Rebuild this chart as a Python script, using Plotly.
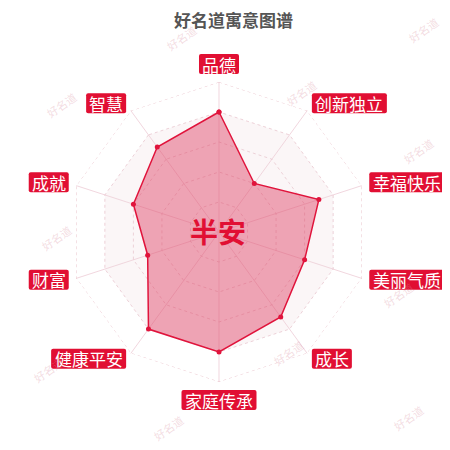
import math
import plotly.graph_objects as go

categories = ["品德", "创新独立", "幸福快乐", "美丽气质", "成长", "家庭传承", "健康平安", "财富", "成就", "智慧"]
values = [80, 40, 70, 60, 70, 80, 80, 50, 60, 70]
name_text = "半安"
title_text = "好名道寓意图谱"
watermark_text = "好名道"
watermark_pos = [(173, 30), (415, 22), (53, 97), (293, 85), (410, 143), (48, 230),
                 (390, 287), (40, 362), (160, 420), (280, 345), (400, 410)]
ring_ticks = [20, 40, 60, 80]
outer_ring = 100
shaded_band = 80  # inner shaded split area of the grid

W = H = 450
CX, CY, R = 211, 224, 150
RED = "#e10f33"
FONT = "Noto Sans CJK SC"

fig = go.Figure()
closed_theta = categories + categories[:1]
# faint split-area band
fig.add_trace(go.Scatterpolar(
    r=[shaded_band] * len(closed_theta), theta=closed_theta,
    mode="lines", fill="toself",
    fillcolor="rgba(235,215,220,0.22)",
    line=dict(width=0, color="rgba(0,0,0,0)"),
    hoverinfo="skip", showlegend=False,
))
# outer dotted ring
fig.add_trace(go.Scatterpolar(
    r=[outer_ring] * len(closed_theta), theta=closed_theta,
    mode="lines", line=dict(width=1, color="rgba(230,185,195,0.8)", dash="dot"),
    hoverinfo="skip", showlegend=False,
))
fig.add_trace(go.Scatterpolar(
    r=values + values[:1],
    theta=closed_theta,
    mode="lines+markers",
    fill="toself",
    fillcolor="rgba(220,40,80,0.40)",
    line=dict(color="#e0143c", width=1.5),
    marker=dict(color="#e0143c", size=5),
    hoverinfo="skip",
    showlegend=False,
))

annotations = []
shapes = []
for (x, y) in watermark_pos:
    annotations.append(dict(
        x=x / W, y=1 - y / H, xref="paper", yref="paper", text=watermark_text,
        showarrow=False, textangle=-35, xanchor="center", yanchor="middle",
        font=dict(family=FONT, size=11, color="rgba(215,140,155,0.3)"),
    ))


def to_paper(p):
    out = []
    for tok in p.split(" "):
        if "," in tok:
            a, b = tok.split(",")
            out.append(f"{float(a) / W:.5f},{1 - float(b) / H:.5f}")
        else:
            out.append(tok)
    return " ".join(out)


n = len(categories)
gap = 8
BOX_H = 20
CHAR_W = 17.5
for i, c in enumerate(categories):
    th = math.radians(360 * i / n)
    s, co = math.sin(th), math.cos(th)
    px = CX + (R + gap) * s
    py = CY - (R + gap) * co
    bw = CHAR_W * len(c) + 5
    if s > 0.1:
        x0 = px
    elif s < -0.1:
        x0 = px - bw
    else:
        x0 = px - bw / 2
    if co > 0.9:
        y0 = py - BOX_H
    elif co < -0.9:
        y0 = py
    else:
        y0 = py - BOX_H / 2 - 1
    x1, y1 = x0 + bw, y0 + BOX_H
    rr = 2
    path = (f"M {x0 + rr},{y0} L {x1 - rr},{y0} Q {x1},{y0} {x1},{y0 + rr} "
            f"L {x1},{y1 - rr} Q {x1},{y1} {x1 - rr},{y1} L {x0 + rr},{y1} "
            f"Q {x0},{y1} {x0},{y1 - rr} L {x0},{y0 + rr} Q {x0},{y0} {x0 + rr},{y0} Z")
    shapes.append(dict(type="path", xref="paper", yref="paper", path=to_paper(path),
                       fillcolor=RED, line=dict(width=0), layer="above"))
    annotations.append(dict(
        x=(x0 + x1) / 2 / W, y=1 - (y0 + y1) / 2 / H, xref="paper", yref="paper", text=c,
        showarrow=False, xanchor="center", yanchor="middle",
        font=dict(family=FONT, size=17, color="white"),
    ))

annotations.append(dict(
    x=210 / W, y=1 - 223 / H, xref="paper", yref="paper", text="<b>" + name_text + "</b>",
    showarrow=False, xanchor="center", yanchor="middle",
    font=dict(family=FONT, size=28, color=RED),
))
annotations.append(dict(
    x=225 / W, y=1 - 12 / H, xref="paper", yref="paper", text="<b>" + title_text + "</b>",
    showarrow=False, xanchor="center", yanchor="middle",
    font=dict(family=FONT, size=17, color="#555555"),
))

fig.update_layout(
    width=W, height=H,
    margin=dict(l=0, r=0, t=0, b=0),
    paper_bgcolor="white",
    plot_bgcolor="white",
    polar=dict(
        domain=dict(x=[(CX - R) / W, (CX + R) / W], y=[1 - (CY + R) / H, 1 - (CY - R) / H]),
        gridshape="linear",
        bgcolor="white",
        radialaxis=dict(range=[0, 100], tickvals=ring_ticks, showticklabels=False,
                        ticks="", showline=False, gridcolor="rgba(230,190,200,0.7)",
                        griddash="dot", gridwidth=1),
        angularaxis=dict(direction="clockwise", rotation=90, showticklabels=False, ticks="",
                         showline=False,
                         gridcolor="rgba(240,210,218,0.9)", gridwidth=1),
    ),
    annotations=annotations,
    shapes=shapes,
)

fig.write_html("out.html")
